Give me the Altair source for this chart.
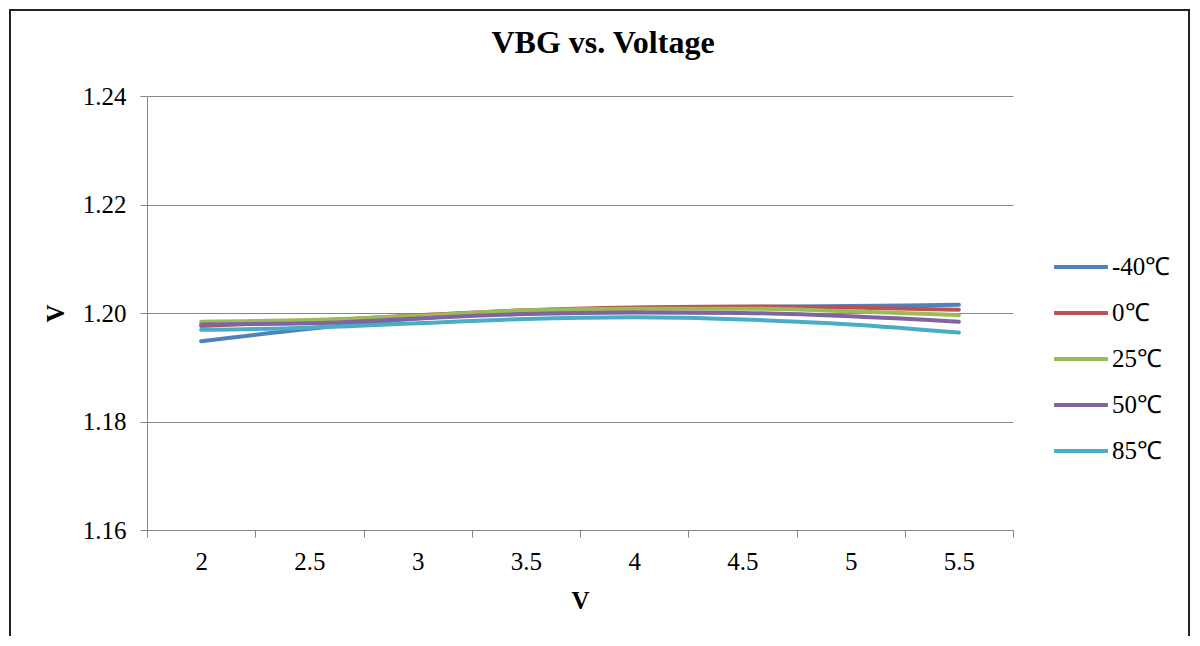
import altair as alt
import pandas as pd

voltages = ["2", "2.5", "3", "3.5", "4", "4.5", "5", "5.5"]
series_names = ["-40℃", "0℃", "25℃", "50℃", "85℃"]
vbg_m40 = [1.1948, 1.1971, 1.1990, 1.2002, 1.2008, 1.2011, 1.2013, 1.2015]
vbg_0 = [1.1976, 1.1985, 1.1996, 1.2005, 1.2010, 1.2012, 1.2010, 1.2006]
vbg_25 = [1.1984, 1.1987, 1.1995, 1.2005, 1.2008, 1.2008, 1.2003, 1.1996]
vbg_50 = [1.1979, 1.1981, 1.1990, 1.1998, 1.2001, 1.2000, 1.1994, 1.1984]
vbg_85 = [1.1969, 1.1973, 1.1981, 1.1989, 1.1992, 1.1988, 1.1979, 1.1964]
colors = ["#4F81BD", "#C0504D", "#9BBB59", "#8064A2", "#4BACC6"]

all_series = [vbg_m40, vbg_0, vbg_25, vbg_50, vbg_85]
rows = []
for si, (name, vals) in enumerate(zip(series_names, all_series)):
    for v, y in zip(voltages, vals):
        rows.append({"V": v, "VBG": y, "series": name, "order": si})
df = pd.DataFrame(rows)

FONT = "Liberation Serif"
GRID = "#878787"

lines = alt.Chart(df).mark_line(
    strokeWidth=4, interpolate="monotone", strokeCap="round", strokeJoin="round"
).encode(
    x=alt.X(
        "V:O",
        sort=voltages,
        scale=alt.Scale(type="band", paddingInner=0, paddingOuter=0),
        bandPosition=0.5,
        axis=alt.Axis(
            title="V",
            tickBand="extent",
            labelAngle=0,
            grid=False,
            domainColor=GRID,
            tickColor=GRID,
            tickSize=7,
            labelPadding=12,
            titlePadding=14,
        ),
    ),
    y=alt.Y(
        "VBG:Q",
        scale=alt.Scale(domain=[1.16, 1.24], nice=False, zero=False),
        axis=alt.Axis(
            title="V",
            values=[1.16, 1.18, 1.20, 1.22, 1.24],
            format=".2f",
            grid=True,
            gridColor=GRID,
            domainColor=GRID,
            tickColor=GRID,
            tickSize=7,
            labelPadding=14,
            titlePadding=14,
        ),
    ),
    color=alt.Color(
        "series:N",
        sort=series_names,
        scale=alt.Scale(domain=series_names, range=colors),
        legend=alt.Legend(
            title=None,
            orient="none",
            legendX=905,
            legendY=142,
            symbolType="stroke",
            symbolSize=2900,
            symbolStrokeWidth=4,
        ),
    ),
    order=alt.Order("order:Q"),
)

border = alt.Chart(alt.Data(values=[{}])).mark_rect(
    fill=None, stroke="#222222", strokeWidth=2
).encode(
    x=alt.value(-137), x2=alt.value(1042), y=alt.value(-86), y2=alt.value(600)
)

chart = alt.layer(border, lines).properties(
    width=866,
    height=434,
    padding={"left": 139, "top": 88, "right": 177, "bottom": 106},
    autosize=alt.AutoSizeParams(type="none"),
    title=alt.TitleParams(
        "VBG vs. Voltage", font=FONT, fontSize=32, fontWeight="bold",
        color="#000000", anchor="middle", frame="group", dx=23, dy=83, offset=0,
        baseline="bottom"
    ),
).configure_view(stroke=None).configure_axis(
    labelFont=FONT, labelFontSize=25, labelColor="#000000",
    titleFont=FONT, titleFontSize=25, titleFontWeight="bold", titleColor="#000000",
).configure_legend(
    labelFont=FONT, labelFontSize=25, labelColor="#000000",
    labelOffset=2, rowPadding=4,
)

chart.save("out.html", embed_options={"renderer": "svg", "actions": False})
